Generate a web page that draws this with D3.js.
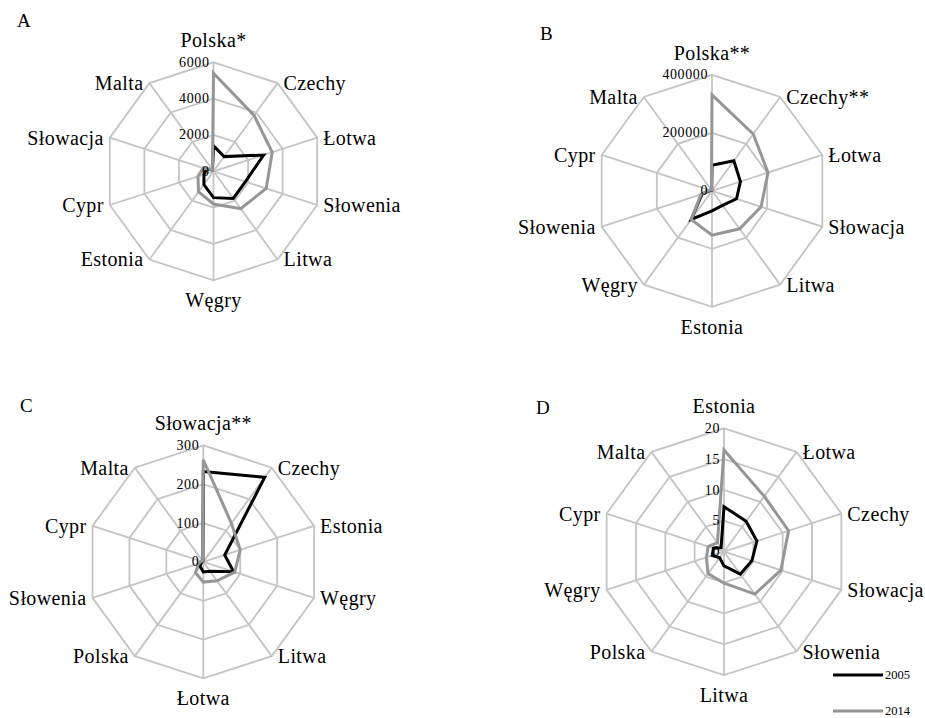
<!DOCTYPE html>
<html>
<head>
<meta charset="utf-8">
<script src="https://cdn.jsdelivr.net/npm/d3@7"></script>
<style>
  body { margin: 0; background: #fff; }
  svg text { font-family: "Liberation Serif", "DejaVu Serif", "Times New Roman", Times, serif; }
</style>
</head>
<body>
<svg id="chart" width="925" height="718"></svg>
<script>
// panel A
const catsA = ["Polska*", "Czechy", "Łotwa", "Słowenia", "Litwa", "Węgry", "Estonia", "Cypr", "Słowacja", "Malta"];
const a2005 = [1400, 1000, 2900, 1850, 1850, 1450, 900, 550, 400, 100];
const a2014 = [5400, 3800, 3400, 3050, 2550, 1800, 1400, 900, 600, 100];
const ticksA = [0, 2000, 4000, 6000];

// panel B
const catsB = ["Polska**", "Czechy**", "Łotwa", "Słowacja", "Litwa", "Estonia", "Węgry", "Słowenia", "Cypr", "Malta"];
const b2005 = [88000, 128000, 103000, 89000, 62000, 69000, 122000, 36000, 5000, 2000];
const b2014 = [331000, 242000, 203000, 178000, 162000, 153000, 122000, 40000, 8000, 3000];
const ticksB = [0, 200000, 400000];

// panel C
const catsC = ["Słowacja**", "Czechy", "Estonia", "Węgry", "Litwa", "Łotwa", "Polska", "Słowenia", "Cypr", "Malta"];
const c2005 = [233, 269, 58, 82, 30, 26, 14, 5, 3, 2];
const c2014 = [263, 123, 100, 85, 60, 52, 34, 13, 5, 3];
const ticksC = [0, 100, 200, 300];

// panel D
const catsD = ["Estonia", "Łotwa", "Czechy", "Słowacja", "Słowenia", "Litwa", "Polska", "Węgry", "Cypr", "Malta"];
const d2005 = [7.3, 6.1, 5.6, 4.75, 4.5, 2.3, 1.2, 2.0, 1.8, 0.8];
const d2014 = [16.5, 11.1, 11.0, 9.7, 8.5, 5.1, 4.4, 3.0, 2.7, 1.8];
const ticksD = [0, 5, 10, 15, 20];

const years = ["2005", "2014"];
const colors = ["#000000", "#969696"];
const gridColor = "#c4c4c4";
const serif = "Liberation Serif";

const svg = d3.select("#chart");

/**
 * draw one radar panel
 */
function drawRadar(letter, lx, ly, cx, cy, R, cats, series, ticks) {
  const n = cats.length;
  const g = svg.append("g").attr("transform", `translate(${cx},${cy})`);
  const r = d3.scaleLinear().domain([0, d3.max(ticks)]).range([0, R]);
  const ang = i => i * 2 * Math.PI / n;

  svg.append("text")
    .attr("x", lx).attr("y", ly)
    .attr("font-family", serif)
    .attr("font-size", 19)
    .attr("dominant-baseline", "central")
    .text(letter);

  // rings
  const ring = d3.lineRadial().curve(d3.curveLinearClosed)
    .angle((d, i) => ang(i)).radius(d => r(d));
  ticks.slice(1).forEach(t => {
    g.append("path")
      .attr("d", ring(cats.map(() => t)))
      .attr("fill", "none")
      .attr("stroke", gridColor)
      .attr("stroke-width", 1.8);
  });

  // spokes
  g.selectAll(".spoke").data(cats).enter().append("line")
    .attr("x1", 0).attr("y1", 0)
    .attr("x2", (d, i) => Math.sin(ang(i)) * R)
    .attr("y2", (d, i) => -Math.cos(ang(i)) * R)
    .attr("stroke", gridColor)
    .attr("stroke-width", 1.8);

  // series
  const line = d3.lineRadial().curve(d3.curveLinearClosed)
    .angle((d, i) => ang(i)).radius(d => r(d));
  series.forEach((s, k) => {
    g.append("path")
      .attr("d", line(s))
      .attr("fill", "none")
      .attr("stroke", colors[k])
      .attr("stroke-width", 3)
      .attr("stroke-linejoin", "miter");
  });

  // tick labels
  g.selectAll(".tick").data(ticks).enter().append("text")
    .attr("x", -4)
    .attr("y", d => -r(d))
    .attr("text-anchor", "end")
    .attr("dominant-baseline", "central")
    .attr("font-family", serif)
    .attr("font-size", 14)
    .attr("letter-spacing", 0.6)
    .text(d => d);

  // category labels
  g.selectAll(".cat").data(cats).enter().append("text")
    .attr("font-family", serif)
    .attr("font-size", 20)
    .attr("letter-spacing", 0.4)
    .attr("dominant-baseline", "central")
    .attr("text-anchor", (d, i) => {
      const s = Math.sin(ang(i));
      return Math.abs(s) < 0.01 ? "middle" : (s > 0 ? "start" : "end");
    })
    .attr("x", (d, i) => {
      const s = Math.sin(ang(i));
      return s * R + (Math.abs(s) < 0.01 ? 0 : (s > 0 ? 6 : -6));
    })
    .attr("y", (d, i) => {
      const s = Math.sin(ang(i)), c = Math.cos(ang(i));
      if (Math.abs(s) < 0.01) return c > 0 ? -R - 22 : R + 20;
      return -c * R;
    })
    .text(d => d);
}

drawRadar("A", 17, 20, 213.5, 171.3, 109, catsA, [a2005, a2014], ticksA);
drawRadar("B", 540, 33, 712, 190.8, 116, catsB, [b2005, b2014], ticksB);
drawRadar("C", 20, 405, 203.3, 561.9, 116.5, catsC, [c2005, c2014], ticksC);
drawRadar("D", 536, 407, 724, 551.7, 123.4, catsD, [d2005, d2014], ticksD);

// legend
const leg = svg.append("g");
const legY = d3.scalePoint().domain(years).range([675, 711]);
years.forEach((y, k) => {
  leg.append("line")
    .attr("x1", 833).attr("x2", 883)
    .attr("y1", legY(y)).attr("y2", legY(y))
    .attr("stroke", colors[k])
    .attr("stroke-width", 3);
  leg.append("text")
    .attr("x", 885).attr("y", legY(y))
    .attr("dominant-baseline", "central")
    .attr("font-family", serif)
    .attr("font-size", 12.5)
    .text(y);
});
</script>
</body>
</html>
